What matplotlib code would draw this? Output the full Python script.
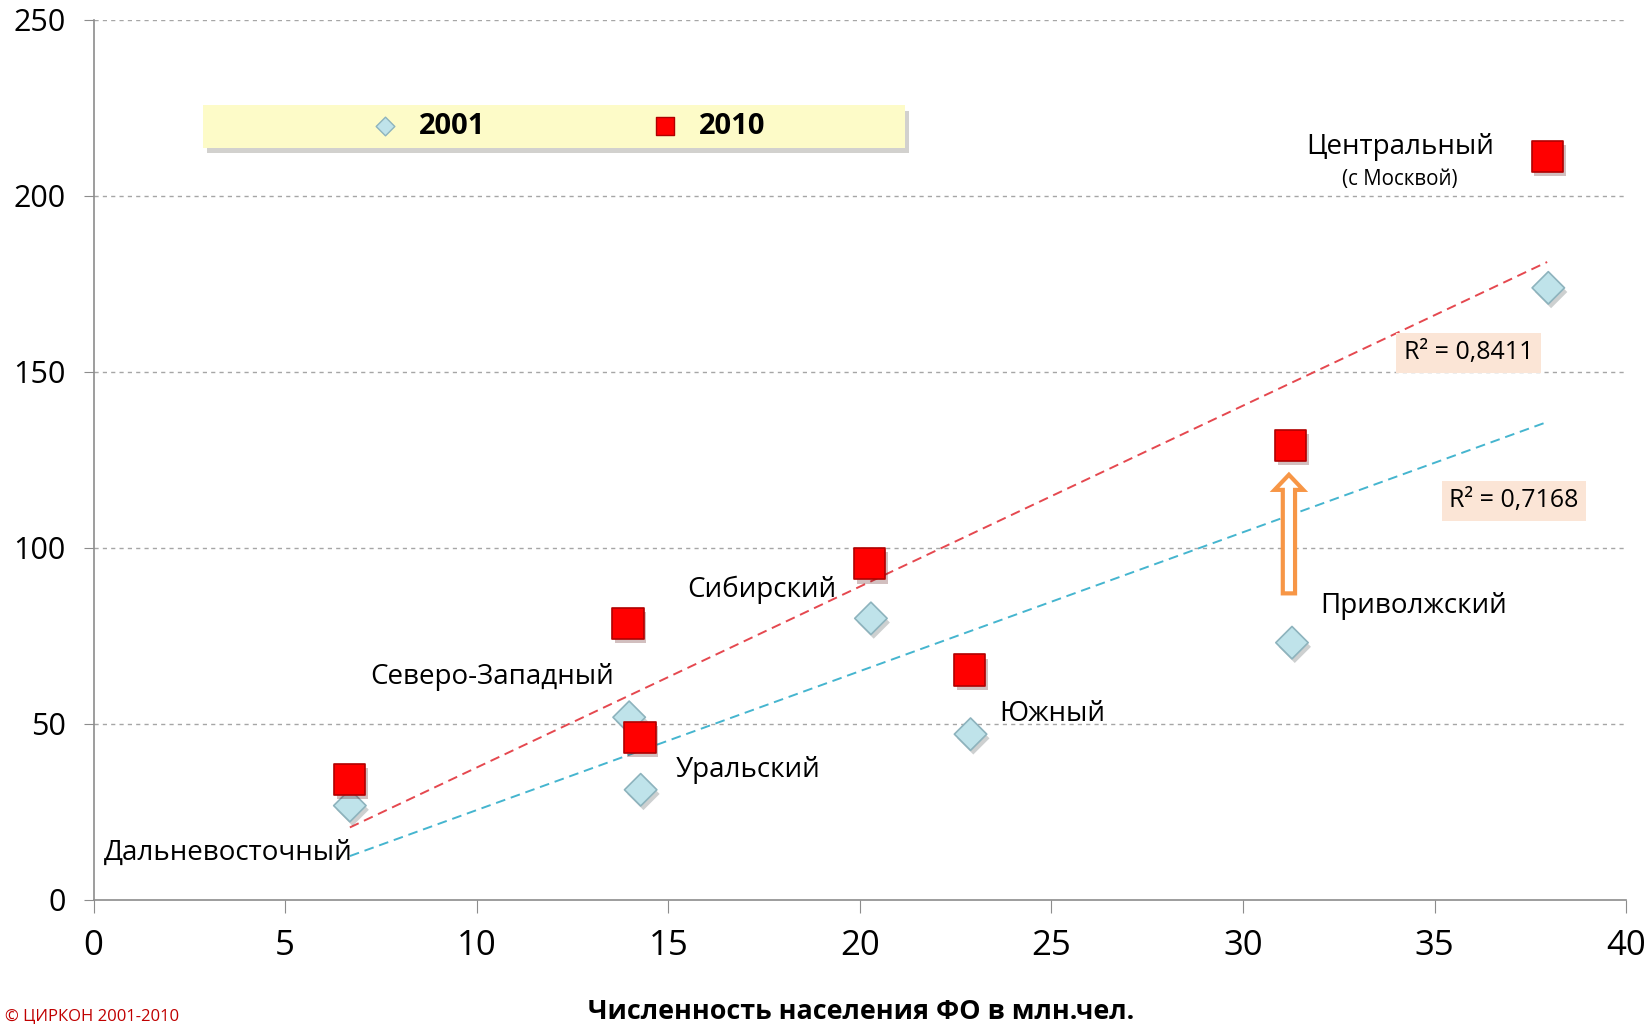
#!/usr/bin/env python3
"""Scatter of federal districts: population vs indicator, 2001 and 2010, with linear trends."""

import matplotlib
matplotlib.use("Agg")
import matplotlib.pyplot as plt
import matplotlib.patheffects as pe
from matplotlib.patches import FancyArrow, Rectangle
import numpy as np

plt.rcParams["font.family"] = ["Open Sans", "DejaVu Sans"]

# --- data ---
districts = ["Дальневосточный", "Северо-Западный", "Уральский", "Сибирский",
             "Южный", "Приволжский", "Центральный"]
pop_2001 = [6.69, 13.98, 14.28, 20.29, 22.89, 31.28, 37.97]
val_2001 = [26.8, 51.9, 31.3, 80.0, 47.1, 73.1, 173.9]
pop_2010 = [6.69, 13.95, 14.26, 20.26, 22.86, 31.25, 37.94]
val_2010 = [34.3, 78.5, 46.2, 95.5, 65.3, 129.2, 211.2]
r2_labels = ["R² = 0,8411", "R² = 0,7168"]
years = ["2001", "2010"]
x_label = "Численность населения ФО в млн.чел."
copyright_text = "© ЦИРКОН 2001-2010"

# label anchor positions (data coords)
label_pos = {
    "Дальневосточный": (3.51, 13.4),
    "Северо-Западный": (10.39, 63.2),
    "Уральский": (17.08, 37.0),
    "Сибирский": (17.44, 88.0),
    "Южный": (25.03, 52.8),
    "Приволжский": (34.46, 83.5),
    "Центральный": (34.1, 213.9),
}

RED = "#ff0000"
RED_EDGE = "#b00000"
BLUE = "#bfe3ea"
BLUE_EDGE = "#8db3bd"
TREND_RED = "#e5484f"
TREND_BLUE = "#45b5cf"
GRID = "#a6a6a6"

fig = plt.figure(figsize=(16.47, 10.25), dpi=100)
ax = fig.add_axes([0.0568, 0.1220, 0.9305, 0.8585])

ax.set_xlim(0, 40)
ax.set_ylim(0, 250)
ax.set_xticks(range(0, 41, 5))
ax.set_yticks(range(0, 251, 50))
ax.tick_params(axis="x", labelsize=25, length=9, color="#8c8c8c", pad=12)
ax.tick_params(axis="y", labelsize=22, length=7, color="#8c8c8c", pad=13)
for side in ("top", "right"):
    ax.spines[side].set_visible(False)
for side in ("left", "bottom"):
    ax.spines[side].set_color("#8c8c8c")
    ax.spines[side].set_linewidth(1.2)

for yv in range(50, 251, 50):
    ax.axhline(yv, color=GRID, lw=1.0, ls=(0, (3, 3)), zorder=1)

# trend lines (least squares, like Excel)
for xs, ys, col in ((pop_2010, val_2010, TREND_RED), (pop_2001, val_2001, TREND_BLUE)):
    k, b = np.polyfit(xs, ys, 1)
    xx = np.array([min(xs), max(xs)])
    ax.plot(xx, k * xx + b, color=col, lw=1.4, ls=(0, (5, 3)), zorder=2)

shadow = [pe.SimplePatchShadow(offset=(2, -3), alpha=0.25), pe.Normal()]
ax.scatter(pop_2001, val_2001, marker="D", s=16.5 ** 2, c=BLUE, edgecolors=BLUE_EDGE,
           linewidths=1.2, zorder=4, path_effects=shadow)
ax.scatter(pop_2010, val_2010, marker="s", s=22.5 ** 2, c=RED, edgecolors=RED_EDGE,
           linewidths=1.2, zorder=5, path_effects=shadow)

for name in districts:
    x, y = label_pos[name]
    ax.text(x, y, name, fontsize=20, ha="center", va="center", zorder=6)
ax.text(34.1, 204.7, "(с Москвой)", fontsize=14.8, ha="center", va="center", zorder=6)

# R² boxes
for (x, y), txt in zip([(35.89, 155.4), (37.07, 113.4)], r2_labels):
    ax.text(x, y, txt, fontsize=18, ha="center", va="center", zorder=6,
            bbox=dict(boxstyle="square,pad=0.3", fc="#fbe5d6", ec="none"))

# hollow orange arrow at Privolzhsky
arrow = FancyArrow(31.2, 87.1, 0, 33.7, width=0.32, head_width=0.75, head_length=4.3,
                   length_includes_head=True, fc="white", ec="#f79646", lw=3, zorder=3)
ax.add_patch(arrow)

# legend box
box = Rectangle((0.0712, 0.855), 0.4585, 0.048, transform=ax.transAxes,
                fc="#fdfbc8", ec="none", zorder=7,
                path_effects=[pe.SimplePatchShadow(offset=(3, -4), alpha=0.25), pe.Normal()])
ax.add_patch(box)
ly = 0.879
ax.scatter([0.1905], [ly], marker="D", s=9.5 ** 2, c=BLUE, edgecolors=BLUE_EDGE,
           linewidths=1, transform=ax.transAxes, zorder=8)
ax.text(0.212, ly, years[0], fontsize=21, fontweight="bold", va="center",
        transform=ax.transAxes, zorder=8)
ax.scatter([0.373], [ly], marker="s", s=12.5 ** 2, c=RED, edgecolors=RED_EDGE,
           linewidths=1, transform=ax.transAxes, zorder=8)
ax.text(0.395, ly, years[1], fontsize=21, fontweight="bold", va="center",
        transform=ax.transAxes, zorder=8)

fig.text(0.523, 0.0127, x_label, fontsize=19.4, fontweight="bold", ha="center", va="center")
fig.text(0.003, 0.0, copyright_text, fontsize=12, color="#c00000", ha="left", va="bottom")

fig.savefig("out.png", dpi=100)
